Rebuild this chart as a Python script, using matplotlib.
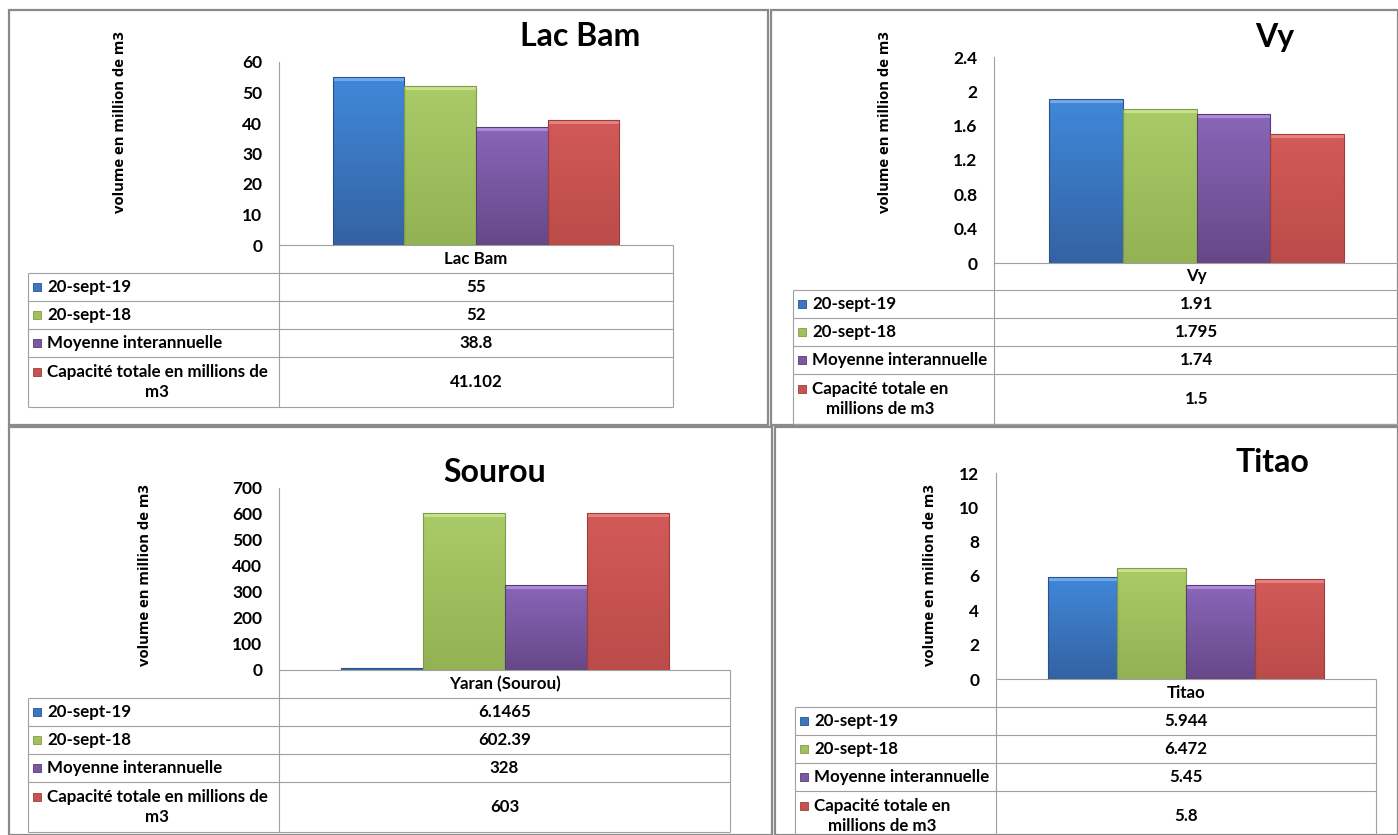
import numpy as np
import matplotlib
matplotlib.use("Agg")
import matplotlib.pyplot as plt
import matplotlib.transforms as mtransforms
from matplotlib.colors import LinearSegmentedColormap
from matplotlib.patches import Rectangle
import textwrap

plt.rcParams['font.family'] = ['Lato', 'DejaVu Sans']

W, H = 1398, 835

# ---------------- data ----------------
series_names = ["20-sept-19", "20-sept-18", "Moyenne interannuelle",
                "Capacité totale en millions de m3"]
panel_titles = ["Lac Bam", "Vy", "Sourou", "Titao"]
categories = ["Lac Bam", "Vy", "Yaran (Sourou)", "Titao"]
sept19 = [55, 1.91, 6.1465, 5.944]
sept18 = [52, 1.795, 602.39, 6.472]
moyenne = [38.8, 1.74, 328, 5.45]
capacite = [41.102, 1.5, 603, 5.8]
y_max = [60, 2.4, 700, 12]
y_step = [10, 0.4, 100, 2]
y_label = "volume en million de m3"

# ---------------- styles ----------------
color_top = ["#4088da", "#aacb68", "#8a66b8", "#d25a58"]
color_bot = ["#3462a2", "#93b253", "#664889", "#bb4c49"]
color_mid = ["#3b76c2", "#a0c05e", "#7a58a2", "#c85250"]
color_edge = ["#2b5288", "#7f9b47", "#553b75", "#9e3e3c"]
color_hi = ["#7fb2ee", "#cfe897", "#b596e0", "#ec8e8c"]
line_col = "#a0a0a0"
border_col = "#8a8a8a"

layouts = [
    dict(box=(9, 10, 768, 425), plot=(279, 62, 673, 245), tleft=28,
         rows=[245, 273, 301, 329, 357, 407], title=(580, 37), ylab=(120, 122), wrap=30),
    dict(box=(771, 10, 1398, 425), plot=(994, 57, 1399, 263), tleft=793,
         rows=[263, 290, 318, 346, 374, 424], title=(1275, 37), ylab=(885, 122), wrap=22),
    dict(box=(9, 427, 772, 835), plot=(279, 488, 730, 670), tleft=28,
         rows=[670, 698, 726, 754, 782, 832], title=(495, 472), ylab=(145, 575), wrap=30),
    dict(box=(775, 427, 1398, 835), plot=(996, 473, 1376, 679), tleft=795,
         rows=[679, 707, 735, 763, 791, 841], title=(1272, 462), ylab=(930, 575), wrap=22),
]

fig = plt.figure(figsize=(W / 100, H / 100), dpi=100)
fig.patch.set_facecolor("white")
ov = fig.add_axes([0, 0, 1, 1])
ov.set_xlim(0, W)
ov.set_ylim(H, 0)
ov.axis('off')
ov.patch.set_alpha(0)
renderer = fig.canvas.get_renderer()


def fbox(x0, y0, x1, y1):
    return [x0 / W, 1 - y1 / H, (x1 - x0) / W, (y1 - y0) / H]


def hline(y, x0, x1, col=line_col, lw=0.8):
    ov.plot([x0, x1], [y, y], color=col, lw=lw, solid_capstyle='butt')


def vline(x, y0, y1, col=line_col, lw=0.8):
    ov.plot([x, x], [y0, y1], color=col, lw=lw, solid_capstyle='butt')


FS_TAB = 12.2
LINE_H = 20

for i, L in enumerate(layouts):
    vals = [sept19[i], sept18[i], moyenne[i], capacite[i]]

    # panel border
    bx0, by0, bx1, by1 = L['box']
    ov.add_patch(Rectangle((bx0, by0), bx1 - bx0, by1 - by0, fill=False,
                           edgecolor=border_col, lw=1.6))

    # bar chart
    px0, py0, px1, py1 = L['plot']
    ax = fig.add_axes(fbox(px0, py0, px1, py1))
    ax.patch.set_alpha(0)
    bw = 1 / 5.5
    offs = (np.arange(4) - 1.5) * bw
    bars = ax.bar(offs, vals, width=bw, color=color_mid, zorder=2)
    grad = np.linspace(0, 1, 128).reshape(-1, 1)
    shift = mtransforms.ScaledTranslation(0, -2.0 / 100, fig.dpi_scale_trans)
    for b, ct, cb, ch in zip(bars, color_top, color_bot, color_hi):
        cmap = LinearSegmentedColormap.from_list('g', [cb, ct])
        im = ax.imshow(grad, cmap=cmap, origin='lower', aspect='auto',
                       extent=(b.get_x(), b.get_x() + b.get_width(), 0, b.get_height()),
                       zorder=2.5, interpolation='bilinear')
        im.set_clip_path(b)
        # bevel highlight along the top edge
        if b.get_height() > y_max[i] * 0.03:
            ln, = ax.plot([b.get_x(), b.get_x() + b.get_width()],
                          [b.get_height(), b.get_height()], color=ch, lw=2.2,
                          alpha=0.8, zorder=3, solid_capstyle='butt',
                          transform=ax.transData + shift)
            ln.set_clip_path(b)
    ax.bar(offs, vals, width=bw, fill=False, edgecolor=color_edge, linewidth=0.8, zorder=4)
    ax.set_xlim(-0.5, 0.5)
    ax.set_ylim(0, y_max[i])
    ticks = np.arange(0, y_max[i] + y_step[i] / 2, y_step[i])
    ax.set_yticks(ticks)
    ax.set_yticklabels([f"{round(t, 6):g}" for t in ticks])
    ax.set_xticks([])
    for s in ['top', 'right', 'bottom']:
        ax.spines[s].set_visible(False)
    ax.spines['left'].set_color(line_col)
    ax.spines['left'].set_linewidth(0.8)
    ax.tick_params(axis='y', length=0, pad=12, labelsize=12.5)
    for t in ax.get_yticklabels():
        t.set_fontweight('bold')

    # title & y label
    ov.text(*L['title'], panel_titles[i], ha='center', va='center',
            fontsize=23, fontweight='bold')
    ov.text(*L['ylab'], y_label, ha='center', va='center', rotation=90,
            fontsize=10.7, fontweight='bold', family=['Open Sans', 'DejaVu Sans'])

    # data table
    rows = L['rows']
    tl = L['tleft']
    hline(rows[0], px0, px1)
    vline(px1, rows[0], rows[1])
    vline(px0, rows[0], rows[1])
    xc = (px0 + px1) / 2
    ov.text(xc, (rows[0] + rows[1]) / 2, categories[i], ha='center', va='center',
            fontsize=FS_TAB, fontweight='bold')
    for r in rows[1:]:
        hline(r, tl, px1)
    vline(tl, rows[1], rows[-1])
    vline(px0, rows[1], rows[-1])
    vline(px1, rows[1], rows[-1])
    for k in range(4):
        ya, yb = rows[k + 1], rows[k + 2]
        yc = (ya + yb) / 2
        lines = textwrap.wrap(series_names[k], width=L['wrap'])
        n = len(lines)
        y_first = yc - (n - 1) * LINE_H / 2
        ov.add_patch(Rectangle((tl + 5, y_first - 4), 8, 8, facecolor=color_mid[k],
                               edgecolor=color_edge[k], lw=0.6))
        t0 = ov.text(tl + 19, y_first, lines[0], ha='left', va='center',
                     fontsize=FS_TAB, fontweight='bold')
        w0 = t0.get_window_extent(renderer).width
        for j, ln_txt in enumerate(lines[1:], start=1):
            ov.text(tl + 19 + w0 / 2, y_first + j * LINE_H, ln_txt, ha='center',
                    va='center', fontsize=FS_TAB, fontweight='bold')
        ov.text(xc, yc, f"{vals[k]:g}", ha='center', va='center',
                fontsize=FS_TAB, fontweight='bold')

fig.savefig("out.png", dpi=100, facecolor="white")
